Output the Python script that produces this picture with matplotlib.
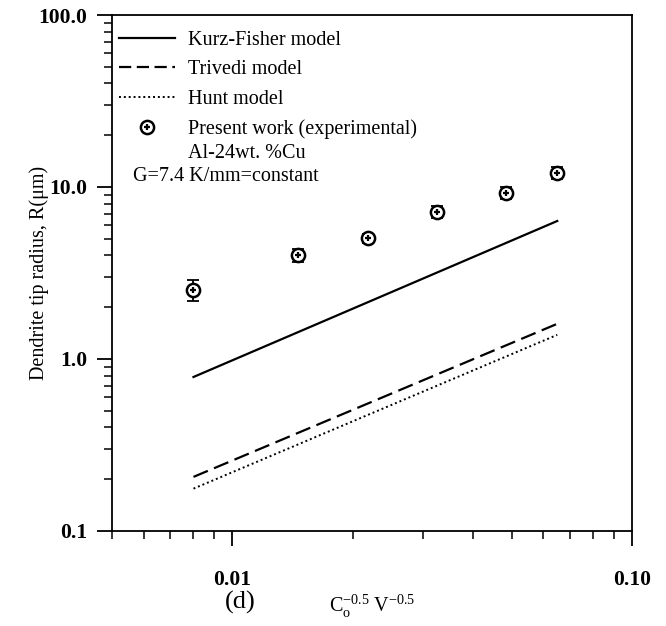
import matplotlib.pyplot as plt
from matplotlib.legend_handler import HandlerTuple
from matplotlib.lines import Line2D

plt.rcParams['font.family'] = ['Liberation Serif', 'DejaVu Serif']
plt.rcParams['mathtext.fontset'] = 'custom'
plt.rcParams['mathtext.rm'] = 'Liberation Serif'

# experimental points
x_exp = [0.0080, 0.0146, 0.0218, 0.0326, 0.0484, 0.0649]
r_exp = [2.52, 4.03, 5.05, 7.15, 9.23, 12.06]
r_err = [0.36, 0.35, 0.3, 0.55, 0.75, 1.0]

# model lines (straight in log-log, end points)
x_model = [0.008, 0.065]
r_kurz = [0.785, 6.34]
r_trivedi = [0.206, 1.60]
r_hunt = [0.176, 1.38]

fig = plt.figure(figsize=(6.66, 6.26), dpi=100)
ax = fig.add_axes([0.168, 0.152, 0.781, 0.824])

ax.plot(x_model, r_kurz, color='black', lw=1.6, ls='-')
ax.plot(x_model, r_trivedi, color='black', lw=1.6, ls=(0, (7, 3)))
ax.plot(x_model, r_hunt, color='black', lw=1.4, ls=(0, (1, 1.5)))
ax.errorbar(x_exp, r_exp, yerr=r_err, fmt='none', ecolor='black',
            elinewidth=1.3, capsize=4.5, capthick=1.3, zorder=3)
ax.plot(x_exp, r_exp, 'o', ms=9.5, mfc='white', mec='black', mew=1.8, zorder=4)
ax.plot(x_exp, r_exp, '+', ms=5, mec='black', mew=1.6, zorder=5)

ax.set_xscale('log')
ax.set_yscale('log')
ax.set_xlim(0.005, 0.1)
ax.set_ylim(0.1, 100)

ax.set_xticks([0.01, 0.1])
ax.set_xticklabels(['0.01', '0.10'])
ax.set_yticks([0.1, 1, 10, 100])
ax.set_yticklabels(['0.1', '1.0', '10.0', '100.0'])
ax.tick_params(axis='both', which='major', direction='out', length=11, width=1.3,
               labelsize=15.5)
ax.tick_params(axis='both', which='minor', direction='out', length=6, width=1.1)
ax.tick_params(axis='x', which='major', pad=17)
ax.tick_params(axis='y', which='major', pad=7)
for lab in ax.get_xticklabels() + ax.get_yticklabels():
    lab.set_fontweight('bold')
for sp in ax.spines.values():
    sp.set_linewidth(1.3)

ax.set_ylabel('Dendrite tip radius, R(\u03bcm)', fontsize=14.5)
ax.yaxis.set_label_coords(-0.12, 0.5)
ax.set_xlabel(r'C$_{\mathrm{o}}^{\mathrm{-0.5}}$ V$^{\mathrm{-0.5}}$', fontsize=14.5)
ax.xaxis.set_label_coords(0.5, -0.12)
fig.text(0.36, 0.037, '(d)', fontsize=19, ha='center', va='center')

handles = [
    Line2D([], [], color='black', lw=1.6, ls='-'),
    Line2D([], [], color='black', lw=1.6, ls=(0, (5.5, 2.5))),
    Line2D([], [], color='black', lw=1.4, ls=(0, (1, 1.5))),
    (Line2D([], [], marker='o', ls='none', ms=9.5, mfc='white', mec='black', mew=1.8),
     Line2D([], [], marker='+', ls='none', ms=5, mec='black', mew=1.6)),
]
labels = ['Kurz-Fisher model', 'Trivedi model', 'Hunt model',
          'Present work (experimental)']
ax.legend(handles, labels, loc='upper left', bbox_to_anchor=(-0.021, 1.005),
          frameon=False, fontsize=14.5, handlelength=2.8, handletextpad=0.6,
          labelspacing=0.52, handler_map={tuple: HandlerTuple(ndivide=1)})

ax.text(0.146, 0.731, 'Al-24wt. %Cu', transform=ax.transAxes, fontsize=14.5,
        va='center', ha='left')
ax.text(0.04, 0.686, 'G=7.4 K/mm=constant', transform=ax.transAxes, fontsize=14.5,
        va='center', ha='left')

fig.savefig('out.png', dpi=100)
